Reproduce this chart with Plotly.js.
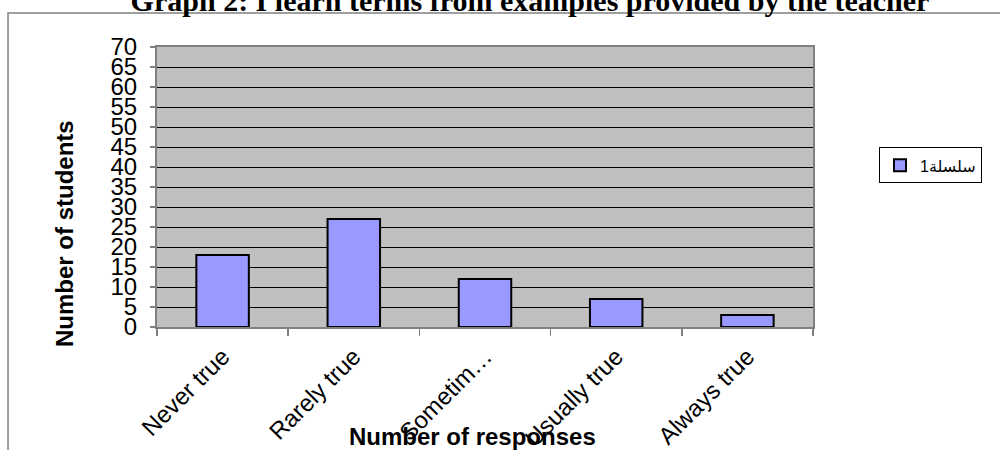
<!DOCTYPE html>
<html>
<head>
<meta charset="utf-8">
<script src="https://cdn.plot.ly/plotly-3.0.1.min.js"></script>
<style>
  html, body { margin: 0; padding: 0; background: #ffffff; }
  #chart { width: 1000px; height: 450px; }
</style>
</head>
<body>
<div id="chart"></div>
<script>
// Survey responses: how often students learn terms from the teacher's examples
const categories = ["Never true", "Rarely true", "Sometim…", "Usually true", "Always true"];
const studentCounts = [18, 27, 12, 7, 3];
const seriesName = "سلسلة1";
const yTickValues = [0, 5, 10, 15, 20, 25, 30, 35, 40, 45, 50, 55, 60, 65, 70];

const chartTitle = "Graph 2: I learn terms from examples provided by the teacher";
const xTitle = "Number of responses";
const yTitle = "Number of students";

const sans = "Arial, 'Liberation Sans', 'DejaVu Sans', sans-serif";
const serif = "'Times New Roman', 'Liberation Serif', serif";
const gray = "#808080";

const trace = {
  type: "bar",
  x: categories,
  y: studentCounts,
  name: seriesName,
  showlegend: true,
  marker: {
    color: "#9999ff",
    line: { color: "#000000", width: 2 }
  },
  hoverinfo: "x+y"
};

const layout = {
  width: 1000,
  height: 450,
  margin: { l: 157, r: 187, t: 47, b: 123, pad: 0 },
  paper_bgcolor: "#ffffff",
  plot_bgcolor: "#c0c0c0",
  bargap: 0.6,
  showlegend: true,
  title: {
    text: "<b>" + chartTitle + "</b>",
    font: { family: serif, size: 30, color: "#000000" },
    xref: "container",
    x: 0.53,
    yref: "container",
    y: 1,
    xanchor: "center",
    yanchor: "middle"
  },
  xaxis: {
    type: "category",
    tickson: "boundaries",
    ticks: "outside",
    ticklen: 7,
    tickwidth: 1.5,
    tickcolor: gray,
    tickangle: -45,
    ticklabelstandoff: 4,
    tickfont: { family: sans, size: 24, color: "#000000" },
    showline: true,
    linecolor: gray,
    linewidth: 2,
    mirror: true,
    showgrid: false,
    zeroline: false,
    fixedrange: true
  },
  yaxis: {
    range: [0, 70],
    tickvals: yTickValues,
    ticks: "outside",
    ticklen: 5,
    tickwidth: 1.5,
    tickcolor: gray,
    ticklabelstandoff: 8,
    tickfont: { family: sans, size: 24, color: "#000000" },
    showline: true,
    linecolor: gray,
    linewidth: 2,
    mirror: true,
    showgrid: true,
    gridcolor: "#000000",
    gridwidth: 1,
    zeroline: false,
    fixedrange: true
  },
  legend: {
    x: 1.1006,
    y: 0.577,
    xanchor: "left",
    yanchor: "middle",
    bgcolor: "#ffffff",
    bordercolor: "#000000",
    borderwidth: 1,
    font: { family: sans, size: 16, color: "#000000" }
  },
  annotations: [
    {
      text: "<b>" + xTitle + "</b>",
      xref: "paper", yref: "paper",
      x: 0.4817, y: -0.391,
      xanchor: "center", yanchor: "middle",
      showarrow: false,
      font: { family: sans, size: 24, color: "#000000" }
    },
    {
      text: "<b>" + yTitle + "</b>",
      xref: "paper", yref: "paper",
      x: -0.1418, y: 0.3357,
      xanchor: "center", yanchor: "middle",
      textangle: -90,
      showarrow: false,
      font: { family: sans, size: 24, color: "#000000" }
    }
  ],
  shapes: [
    {
      // outer chart frame, running off the right and bottom edges
      type: "rect",
      xref: "paper", yref: "paper",
      x0: -0.2271, x1: 1.2927,
      y0: -0.475, y1: 1.1214,
      line: { color: gray, width: 1.5 },
      fillcolor: "rgba(0,0,0,0)",
      layer: "below"
    }
  ]
};

Plotly.newPlot("chart", [trace], layout, { displayModeBar: false, staticPlot: true });
</script>
</body>
</html>
